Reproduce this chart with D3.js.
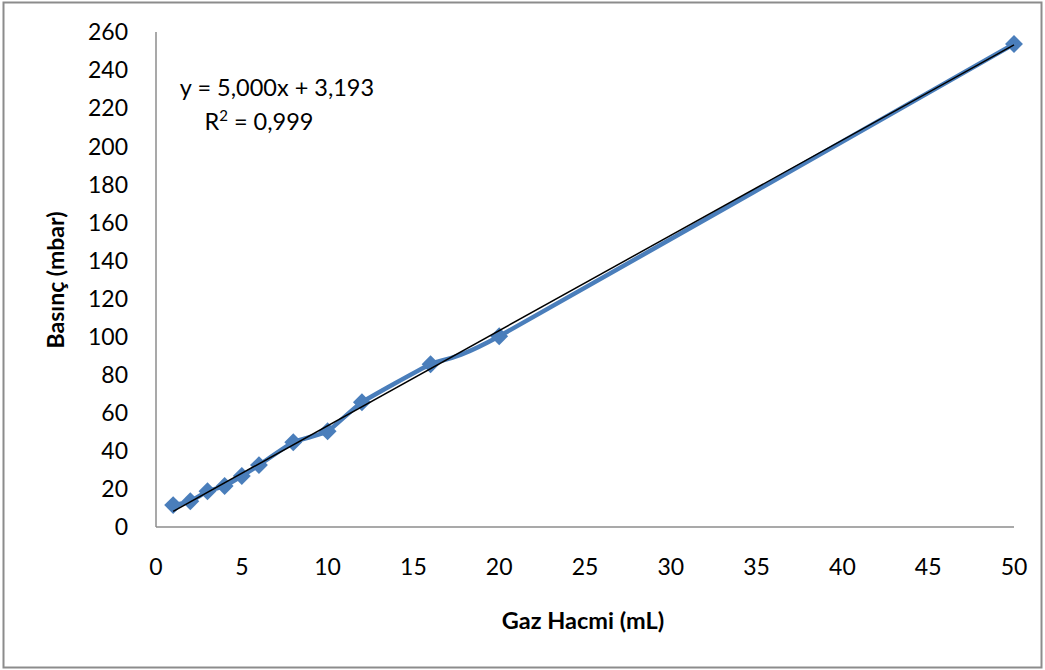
<!DOCTYPE html>
<html>
<head>
<meta charset="utf-8">
<script src="https://cdn.jsdelivr.net/npm/d3@7"></script>
<style>
  body { margin: 0; background: #fff; }
  svg text { font-family: Lato, "Open Sans", sans-serif; fill: #000; }
</style>
</head>
<body>
<svg id="chart" width="1045" height="670"></svg>
<script>
// gas volume (mL) vs pressure (mbar)
const volumes = [1, 2, 3, 4, 5, 6, 8, 10, 12, 16, 20, 50]
const pressures = [11.5, 13.5, 18.8, 21.5, 26.8, 32.5, 44.5, 50.3, 65.5, 85.5, 100.2, 253.7]
const xTicks = [0, 5, 10, 15, 20, 25, 30, 35, 40, 45, 50]
const yTicks = [0, 20, 40, 60, 80, 100, 120, 140, 160, 180, 200, 220, 240, 260]
const slope = 5.000
const intercept = 3.193
const equationText = 'y = 5,000x + 3,193'
const r2Text = '0,999'

const svg = d3.select('#chart')

// outer chart frame
svg.append('rect')
  .attr('x', 3.5).attr('y', 2.5)
  .attr('width', 1038).attr('height', 665)
  .attr('fill', '#fff')
  .attr('stroke', '#8c8c8c')
  .attr('stroke-width', 2)

const plot = { left: 156, right: 1014, top: 32, bottom: 527 }

const x = d3.scaleLinear().domain([0, 50]).range([plot.left, plot.right])
const y = d3.scaleLinear().domain([0, 260]).range([plot.bottom, plot.top])

// axes lines (no tick marks)
svg.append('line')
  .attr('x1', plot.left).attr('x2', plot.left)
  .attr('y1', plot.top).attr('y2', plot.bottom)
  .attr('stroke', '#8c8c8c').attr('stroke-width', 1.5)
svg.append('line')
  .attr('x1', plot.left).attr('x2', plot.right)
  .attr('y1', plot.bottom).attr('y2', plot.bottom)
  .attr('stroke', '#8c8c8c').attr('stroke-width', 1.5)

svg.selectAll('.ytick').data(yTicks)
  .enter().append('text')
  .attr('class', 'ytick')
  .attr('x', plot.left - 28)
  .attr('y', d => y(d))
  .attr('dy', '0.36em')
  .attr('text-anchor', 'end')
  .style('font-size', '23px')
  .text(d => d)

svg.selectAll('.xtick').data(xTicks)
  .enter().append('text')
  .attr('class', 'xtick')
  .attr('x', d => x(d))
  .attr('y', plot.bottom + 40)
  .attr('dy', '0.36em')
  .attr('text-anchor', 'middle')
  .style('font-size', '23px')
  .text(d => d)

// axis titles
svg.append('text')
  .attr('transform', `translate(64, 280) rotate(-90)`)
  .attr('text-anchor', 'middle')
  .style('font-size', '23px')
  .style('font-weight', 'bold')
  .text('Basınç (mbar)')

svg.append('text')
  .attr('x', 583).attr('y', 629)
  .attr('text-anchor', 'middle')
  .style('font-size', '23.5px')
  .style('font-weight', 'bold')
  .text('Gaz Hacmi (mL)')

// smoothed data line
const pts = volumes.map((v, i) => ({ x: v, y: pressures[i] }))
const line = d3.line()
  .x(d => x(d.x))
  .y(d => y(d.y))
  .curve(d3.curveCardinal.tension(0.5))

svg.append('path')
  .attr('d', line(pts))
  .attr('fill', 'none')
  .attr('stroke', '#4a7ebb')
  .attr('stroke-width', 4.5)
  .attr('stroke-linejoin', 'round')

// diamond markers
const diamond = d3.symbol().type(d3.symbolSquare).size(160)
svg.selectAll('.marker').data(pts)
  .enter().append('path')
  .attr('class', 'marker')
  .attr('transform', d => `translate(${x(d.x)},${y(d.y)}) rotate(45)`)
  .attr('d', diamond)
  .attr('fill', '#4a7ebb')

// linear trend line
const xMin = d3.min(volumes)
const xMax = d3.max(volumes)
svg.append('line')
  .attr('x1', x(xMin)).attr('y1', y(slope * xMin + intercept))
  .attr('x2', x(xMax)).attr('y2', y(slope * xMax + intercept))
  .attr('stroke', '#000')
  .attr('stroke-width', 1.5)

// equation label
svg.append('text')
  .attr('x', 277).attr('y', 96)
  .attr('text-anchor', 'middle')
  .style('font-size', '23.5px')
  .text(equationText)

const r2 = svg.append('text')
  .attr('x', 259).attr('y', 130)
  .attr('text-anchor', 'middle')
  .style('font-size', '23.5px')
r2.append('tspan').text('R')
r2.append('tspan').attr('dy', -9).style('font-size', '15px').text('2')
r2.append('tspan').attr('dy', 9).text(' = ' + r2Text)
</script>
</body>
</html>
